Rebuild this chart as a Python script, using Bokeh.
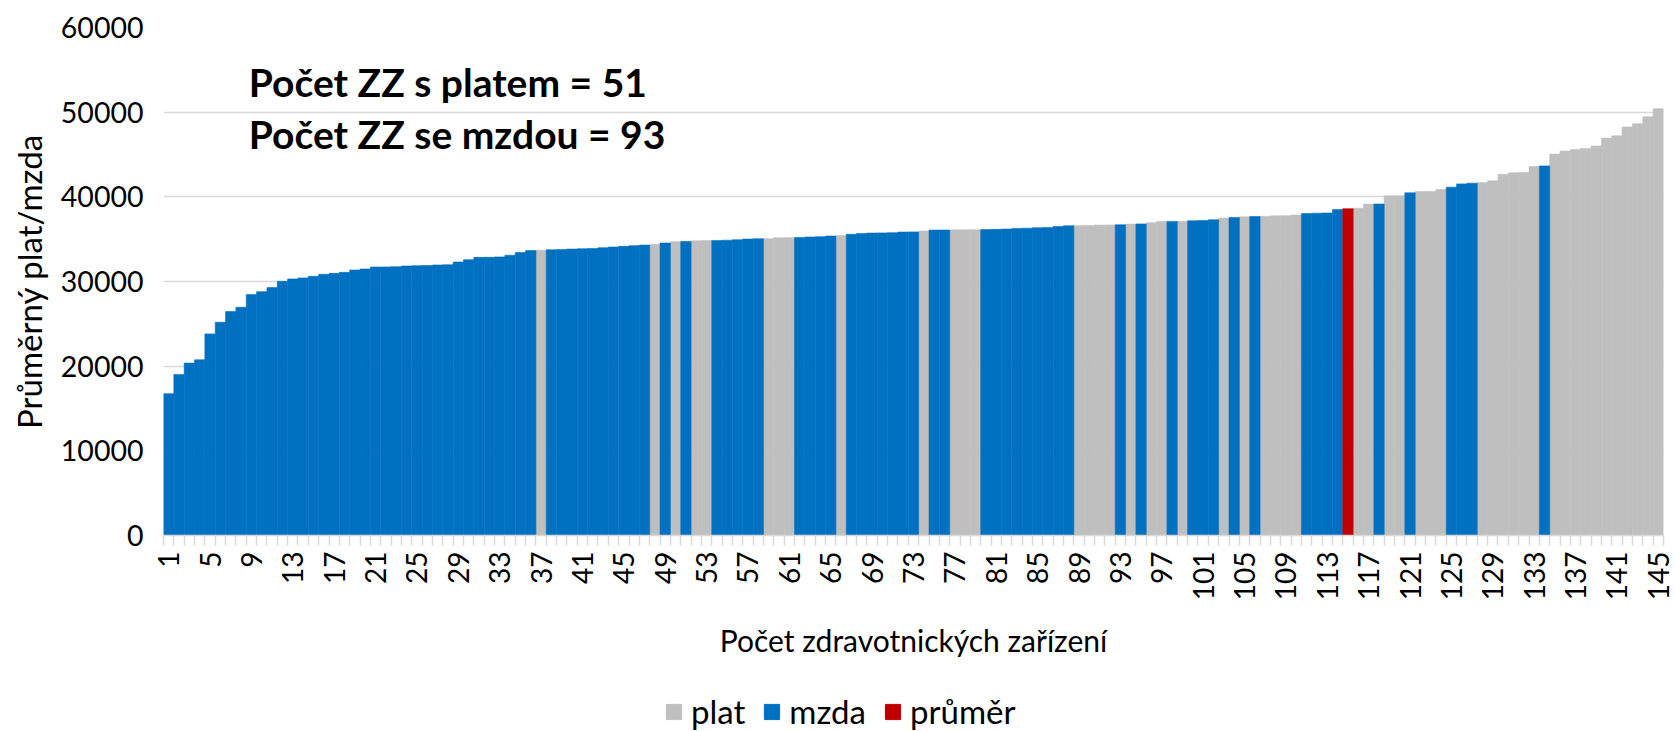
from bokeh.plotting import figure
from bokeh.layouts import column
from bokeh.models import ColumnDataSource, Range1d, FixedTicker, Legend, LegendItem, Label
from bokeh.embed import file_html
from bokeh.resources import INLINE
from math import pi

# ---- data -------------------------------------------------------------
values = [
    16750, 19020, 20360, 20750, 23810, 25190, 26450, 26960, 28450, 28800,
    29280, 30020, 30300, 30420, 30610, 30850, 30960, 31080, 31360, 31480,
    31710, 31720, 31750, 31830, 31870, 31890, 31950, 31980, 32300, 32570,
    32850, 32860, 32900, 33100, 33420, 33650, 33700, 33750, 33790, 33830,
    33870, 33900, 33990, 34070, 34150, 34230, 34300, 34380, 34540, 34700,
    34720, 34810, 34830, 34850, 34880, 34930, 35010, 35050, 35060, 35170,
    35180, 35210, 35250, 35290, 35370, 35440, 35580, 35680, 35720, 35740,
    35760, 35840, 35860, 35960, 36070, 36080, 36100, 36110, 36120, 36130,
    36160, 36190, 36270, 36300, 36350, 36390, 36500, 36580, 36590, 36620,
    36660, 36680, 36700, 36780, 36800, 36940, 37090, 37100, 37110, 37170,
    37210, 37290, 37490, 37570, 37640, 37680, 37700, 37760, 37770, 37840,
    38020, 38070, 38090, 38500, 38600, 38660, 39140, 39150, 40120, 40130,
    40470, 40630, 40640, 40870, 41140, 41530, 41610, 41690, 41890, 42660,
    42830, 42870, 43570, 43650, 45050, 45400, 45600, 45710, 46010, 46940,
    47210, 48250, 48640, 49460, 50410,
]

M, P, R = "mzda", "plat", "průměr"
types = (
    [M] * 36 + [P] + [M] * 10 + [P, M, P, M, P, P] + [M] * 5 + [P, P, P]
    + [M] * 4 + [P] + [M] * 7 + [P, M, M, P, P, P] + [M] * 9 + [P, P, P, P]
    + [M, P, M, P, P, M, P] + [M] * 3 + [P, M, P, M, P, P, P, P] + [M] * 4
    + [R, P, P, M, P, P, M, P, P, P, M, M, M] + [P] * 6 + [M] + [P] * 11
)

series_names = ["plat", "mzda", "průměr"]
series_colors = ["#bfbfbf", "#0070c0", "#c00000"]

y_ticks = [0, 10000, 20000, 30000, 40000, 50000, 60000]
x_tick_labels = list(range(1, len(values) + 1, 4))

x_title = "Počet zdravotnických zařízení"
y_title = "Průměrný plat/mzda"

# ---- main figure ------------------------------------------------------
FONT = "Lato"
n = len(values)
p = figure(
    width=1675, height=686,
    x_range=Range1d(0.5, n + 0.5), y_range=Range1d(0, 60000),
    output_backend="svg", toolbar_location=None,
    min_border_left=163, min_border_right=12,
    min_border_top=27, min_border_bottom=151,
)
p.outline_line_color = None
p.background_fill_color = "white"
p.border_fill_color = "white"

idx = list(range(1, n + 1))
sources = []
for name, col in zip(series_names, series_colors):
    xs = [i for i, t in zip(idx, types) if t == name]
    ys = [v for v, t in zip(values, types) if t == name]
    src = ColumnDataSource(dict(x=xs, top=ys))
    sources.append(src)
    p.vbar(x="x", top="top", width=1.0, bottom=0, source=src,
           fill_color=col, line_color=col, line_width=0.6)

# grid
p.xgrid.grid_line_color = None
p.ygrid.grid_line_color = "#d9d9d9"
p.ygrid.grid_line_width = 1.5
p.ygrid.level = "underlay"

# y axis
p.yaxis.ticker = FixedTicker(ticks=y_ticks)
p.yaxis.axis_line_color = None
p.yaxis.major_tick_line_color = None
p.yaxis.minor_tick_line_color = None
p.yaxis.major_tick_out = 0
p.yaxis.major_label_standoff = 20
p.yaxis.major_label_text_font = FONT
p.yaxis.major_label_text_font_size = "28.5px"
p.yaxis.major_label_text_color = "black"
p.yaxis.axis_label = y_title
p.yaxis.axis_label_text_font = FONT
p.yaxis.axis_label_text_font_size = "33px"
p.yaxis.axis_label_text_font_style = "normal"
p.yaxis.axis_label_text_color = "black"
p.yaxis.axis_label_standoff = 9

# x axis
p.xaxis.ticker = FixedTicker(ticks=x_tick_labels,
                             minor_ticks=[i + 0.5 for i in range(0, n + 1)])
p.xaxis.axis_line_color = "#d9d9d9"
p.xaxis.axis_line_width = 1.5
p.xaxis.major_tick_line_color = None
p.xaxis.major_tick_out = 0
p.xaxis.major_tick_in = 0
p.xaxis.minor_tick_line_color = "#d9d9d9"
p.xaxis.minor_tick_line_width = 1.5
p.xaxis.minor_tick_out = 10
p.xaxis.minor_tick_in = 0
p.xaxis.major_label_orientation = pi / 2
p.xaxis.major_label_standoff = 6
p.xaxis.major_label_text_font = FONT
p.xaxis.major_label_text_font_size = "28px"
p.xaxis.major_label_text_color = "black"
p.xaxis.axis_label = x_title
p.xaxis.axis_label_text_font = FONT
p.xaxis.axis_label_text_font_size = "30px"
p.xaxis.axis_label_text_font_style = "normal"
p.xaxis.axis_label_text_color = "black"
p.xaxis.axis_label_standoff = 19

# annotation texts
n_plat = types.count("plat")
n_mzda = types.count("mzda")
for txt, yv in [(f"Počet ZZ s platem = {n_plat}", 53550),
                (f"Počet ZZ se mzdou = {n_mzda}", 47470)]:
    p.add_layout(Label(x=8.75, y=yv, text=txt, text_font=FONT,
                       text_font_size="39px", text_font_style="bold",
                       text_color="black", text_baseline="middle",
                       text_align="left"))

# ---- legend strip (below the chart) -----------------------------------
lg = figure(
    width=1675, height=45, x_range=Range1d(-2, -1), y_range=Range1d(-2, -1),
    x_axis_type=None, y_axis_type=None,
    output_backend="svg", toolbar_location=None,
    min_border_left=0, min_border_right=0, min_border_top=0, min_border_bottom=0,
)
lg.outline_line_color = None
lg.xgrid.grid_line_color = None
lg.ygrid.grid_line_color = None
items = []
for name, col, src in zip(series_names, series_colors, sources):
    r = lg.vbar(x="x", top="top", width=1.0, bottom=0, source=src,
                fill_color=col, line_color=col, visible=False)
    items.append(LegendItem(label=name, renderers=[r]))

legend = Legend(items=items, orientation="horizontal", location=(501, 0),
                glyph_width=19, glyph_height=19, label_standoff=8, spacing=17,
                padding=0, margin=0, border_line_color=None,
                background_fill_alpha=0,
                label_text_font=FONT, label_text_font_size="33px",
                label_text_color="black")
lg.add_layout(legend, "center")

open("out.html", "w").write(file_html(column(p, lg, spacing=0), INLINE))
